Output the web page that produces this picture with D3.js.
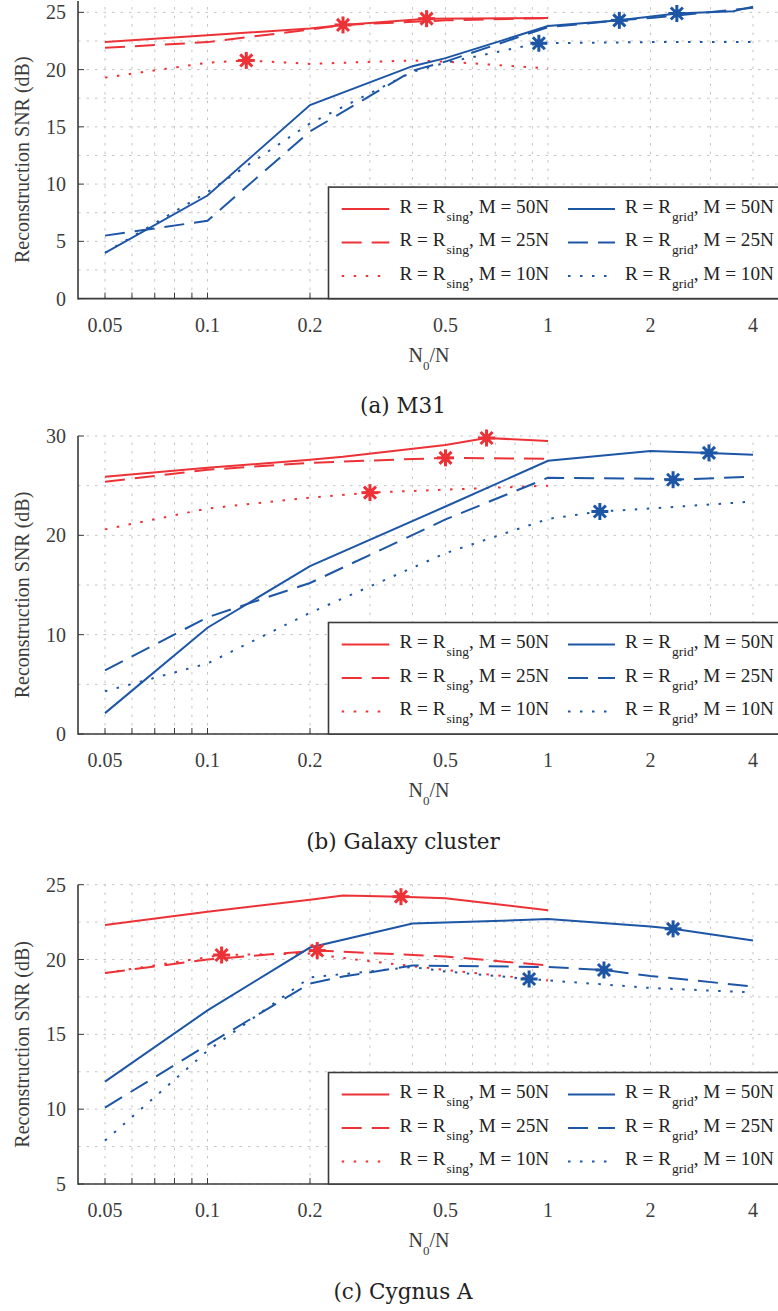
<!DOCTYPE html>
<html><head><meta charset="utf-8">
<script src="https://cdn.jsdelivr.net/npm/d3@7"></script>
<style>body{margin:0;background:#fff}svg{display:block}</style>
</head><body>
<script>
// ---------- DATA ----------
const xMajorTicks = [0.05, 0.1, 0.2, 0.5, 1, 2, 4];
const xMinorTicks = [0.05,0.06,0.07,0.08,0.09,0.1,0.2,0.3,0.4,0.5,0.6,0.7,0.8,0.9,1,2,3,4];
const yTicksA = [0, 5, 10, 15, 20, 25];
const yTicksB = [0, 10, 20, 30];
const yTicksC = [5, 10, 15, 20, 25];
const captions = ["(a) M31", "(b) Galaxy cluster", "(c) Cygnus A"];
const legendSub = ["sing", "sing", "sing", "grid", "grid", "grid"];
const legendM = ["50N", "25N", "10N", "50N", "25N", "10N"];

// (a) M31
const a_sing50 = [[0.05,22.4],[0.1,23.0],[0.2,23.6],[0.25,23.9],[0.44,24.45],[1,24.5]];
const a_sing25 = [[0.05,21.9],[0.1,22.4],[0.2,23.5],[0.25,23.9],[0.5,24.3],[1,24.5]];
const a_sing10 = [[0.05,19.3],[0.1,20.6],[0.13,20.8],[0.2,20.5],[0.4,20.8],[0.5,20.7],[1,20.1]];
const a_grid50 = [[0.05,4.0],[0.1,9.0],[0.2,16.9],[0.4,20.3],[0.5,21.0],[1,23.8],[1.62,24.3],[2.39,24.9],[3.5,25.1],[4,25.5]];
const a_grid25 = [[0.05,5.5],[0.1,6.8],[0.2,14.6],[0.4,19.9],[0.5,20.7],[1,23.7],[1.62,24.3],[2,24.5],[4,25.4]];
const a_grid10 = [[0.05,4.0],[0.1,9.3],[0.2,15.3],[0.4,19.8],[0.5,20.6],[0.94,22.3],[2,22.4],[4,22.4]];
const a_starX = [0.44, 0.25, 0.13, 2.39, 1.62, 0.94];

// (b) Galaxy cluster
const b_sing50 = [[0.05,25.9],[0.1,26.8],[0.2,27.6],[0.25,27.9],[0.5,29.1],[0.66,29.8],[1,29.5]];
const b_sing25 = [[0.05,25.4],[0.1,26.6],[0.2,27.3],[0.5,27.8],[1,27.7]];
const b_sing10 = [[0.05,20.6],[0.1,22.7],[0.2,23.8],[0.3,24.3],[0.5,24.6],[1,25.0]];
const b_grid50 = [[0.05,2.1],[0.1,10.7],[0.2,16.9],[0.5,22.9],[1,27.5],[2,28.5],[2.97,28.3],[4,28.1]];
const b_grid25 = [[0.05,6.4],[0.1,11.75],[0.2,15.2],[0.5,21.6],[1,25.8],[2,25.7],[2.33,25.6],[4,25.9]];
const b_grid10 = [[0.05,4.3],[0.1,7.1],[0.2,12.2],[0.5,18.2],[1,21.65],[1.42,22.4],[2,22.7],[4,23.4]];
const b_starX = [0.66, 0.5, 0.3, 2.97, 2.33, 1.42];

// (c) Cygnus A
const c_sing50 = [[0.05,22.3],[0.1,23.2],[0.2,24.0],[0.25,24.27],[0.37,24.2],[0.5,24.1],[1,23.3]];
const c_sing25 = [[0.05,19.1],[0.1,20.0],[0.21,20.6],[0.5,20.2],[1,19.6]];
const c_sing10 = [[0.05,19.1],[0.11,20.3],[0.2,20.4],[0.25,20.1],[0.5,19.3],[1,18.6]];
const c_grid50 = [[0.05,11.84],[0.1,16.6],[0.2,20.8],[0.4,22.4],[1,22.7],[2,22.2],[2.33,22.05],[4,21.27]];
const c_grid25 = [[0.05,10.1],[0.1,14.3],[0.2,18.4],[0.25,18.86],[0.4,19.6],[1,19.5],[1.46,19.3],[2,18.9],[4,18.2]];
const c_grid10 = [[0.05,7.9],[0.1,13.9],[0.2,18.8],[0.4,19.5],[0.5,19.2],[0.88,18.7],[2,18.1],[4,17.8]];
const c_starX = [0.37, 0.21, 0.11, 2.33, 1.46, 0.88];

// ---------- STYLE / LAYOUT ----------
const RED = "#EC3237", BLUE = "#1E56A6";
const colors = [RED, RED, RED, BLUE, BLUE, BLUE];
const dashes = [null, "20,10", "2.5,9.5", null, "20,10", "2.5,9.5"];
const serif = "'Liberation Serif', 'Times New Roman', serif";
const capFont = "'DejaVu Serif', serif";
const axisCol = "#3a3a3a", gridCol = "#c4c4c4";
const plotL = 78, plotR = 782;

const svg = d3.select("body").append("svg").attr("width", 778).attr("height", 1311);
const x = d3.scaleLog().domain([0.05, 4]).range([105, 753]);

const panels = [
  {series:[a_sing50,a_sing25,a_sing10,a_grid50,a_grid25,a_grid10], stars:a_starX,
   yDomain:[0,26], yRange:[298.6,0.9], yTicks:yTicksA, gridStep:2.5, caption:captions[0]},
  {series:[b_sing50,b_sing25,b_sing10,b_grid50,b_grid25,b_grid10], stars:b_starX,
   yDomain:[0,30], yRange:[734,436], yTicks:yTicksB, gridStep:5, caption:captions[1]},
  {series:[c_sing50,c_sing25,c_sing10,c_grid50,c_grid25,c_grid10], stars:c_starX,
   yDomain:[5,25], yRange:[1184,884.7], yTicks:yTicksC, gridStep:2.5, caption:captions[2]}
];

panels.forEach(p => {
  const y = d3.scaleLinear().domain(p.yDomain).range(p.yRange);
  const bottom = p.yRange[0], top = p.yRange[1];
  const g = svg.append("g");
  const maxTick = d3.max(p.yTicks), minTick = d3.min(p.yTicks);

  // grid
  const gridVals = d3.range(minTick, maxTick + 0.001, p.gridStep);
  g.selectAll(".hg").data(gridVals).enter().append("line")
    .attr("x1", plotL).attr("x2", plotR).attr("y1", d => y(d)).attr("y2", d => y(d))
    .attr("stroke", gridCol).attr("stroke-width", 1).attr("stroke-dasharray", "2.5,6");
  g.selectAll(".vg").data(xMinorTicks).enter().append("line")
    .attr("x1", d => x(d)).attr("x2", d => x(d)).attr("y1", bottom).attr("y2", top)
    .attr("stroke", gridCol).attr("stroke-width", 1).attr("stroke-dasharray", "2.5,6");

  // axes
  g.append("line").attr("x1", plotL).attr("x2", plotR).attr("y1", bottom).attr("y2", bottom)
    .attr("stroke", axisCol).attr("stroke-width", 1.6);
  g.append("line").attr("x1", plotL).attr("x2", plotL).attr("y1", bottom + 0.8).attr("y2", top)
    .attr("stroke", axisCol).attr("stroke-width", 1.6);
  g.selectAll(".xt").data(xMinorTicks).enter().append("line")
    .attr("x1", d => x(d)).attr("x2", d => x(d)).attr("y1", bottom).attr("y2", bottom - 6)
    .attr("stroke", axisCol).attr("stroke-width", 1);
  g.selectAll(".yt").data(p.yTicks).enter().append("line")
    .attr("x1", plotL).attr("x2", plotL + 6).attr("y1", d => y(d)).attr("y2", d => y(d))
    .attr("stroke", axisCol).attr("stroke-width", 1);

  // tick labels
  g.selectAll(".xl").data(xMajorTicks).enter().append("text")
    .attr("x", d => x(d)).attr("y", bottom + 33).attr("text-anchor", "middle")
    .attr("font-family", serif).attr("font-size", 20).attr("fill", "#3c3c3c").text(d => d);
  g.selectAll(".yl").data(p.yTicks).enter().append("text")
    .attr("x", 66).attr("y", d => y(d) + 7).attr("text-anchor", "end")
    .attr("font-family", serif).attr("font-size", 20).attr("fill", "#3c3c3c").text(d => d);

  // axis titles
  const xt = g.append("text").attr("x", 429).attr("y", bottom + 63).attr("text-anchor", "middle")
    .attr("font-family", serif).attr("font-size", 20).attr("fill", "#3c3c3c");
  xt.append("tspan").text("N");
  xt.append("tspan").attr("font-size", 13).attr("dy", 8).text("0");
  xt.append("tspan").attr("dy", -8).text("/N");
  g.append("text").attr("transform", `translate(29,${(bottom + top) / 2 + 10}) rotate(-90)`)
    .attr("text-anchor", "middle").attr("font-family", serif).attr("font-size", 20)
    .attr("fill", "#3c3c3c").text("Reconstruction SNR (dB)");

  // caption
  g.append("text").attr("x", 403).attr("y", bottom + 114.5).attr("text-anchor", "middle")
    .attr("font-family", capFont).attr("font-size", 21.5).attr("fill", "#222").text(p.caption);

  // series
  const line = d3.line().x(d => x(d[0])).y(d => y(d[1]));
  p.series.forEach((s, i) => {
    g.append("path").attr("d", line(s)).attr("fill", "none").attr("stroke", colors[i])
      .attr("stroke-width", 2).attr("stroke-dasharray", dashes[i]);
  });
  // stars
  p.series.forEach((s, i) => {
    const pt = s.find(d => d[0] === p.stars[i]);
    const sg = g.append("g").attr("transform", `translate(${x(pt[0])},${y(pt[1])})`);
    [0, 45, 90, 135].forEach(a => {
      sg.append("line").attr("x1", -8.5).attr("x2", 8.5).attr("y1", 0).attr("y2", 0)
        .attr("transform", `rotate(${a})`).attr("stroke", colors[i]).attr("stroke-width", 3);
    });
    sg.append("circle").attr("r", 4).attr("fill", colors[i]);
  });

  // legend
  const lg = g.append("g");
  lg.append("rect").attr("x", 328.5).attr("y", bottom - 111.5).attr("width", 460).attr("height", 111.5)
    .attr("fill", "#fff").attr("stroke", "#3a3a3a").attr("stroke-width", 1.6);
  const rowOff = [-89.5, -56, -22.5];
  const colLine = [[341.7, 389.3], [568, 615]];
  const colText = [399.5, 625];
  legendSub.forEach((sub, i) => {
    const c = Math.floor(i / 3), r = i % 3;
    const ly = bottom + rowOff[r];
    lg.append("line").attr("x1", colLine[c][0]).attr("x2", colLine[c][1]).attr("y1", ly).attr("y2", ly)
      .attr("stroke", colors[i]).attr("stroke-width", 2).attr("stroke-dasharray", dashes[i]);
    const t = lg.append("text").attr("x", colText[c]).attr("y", ly + 3.5)
      .attr("font-family", serif).attr("font-size", 19.2).attr("fill", "#222");
    t.append("tspan").text("R = R");
    t.append("tspan").attr("font-size", 13.5).attr("dy", 8).attr("dx", 1).text(sub);
    t.append("tspan").attr("dy", -8).text(", M = " + legendM[i]);
  });
});
</script>
</body></html>
